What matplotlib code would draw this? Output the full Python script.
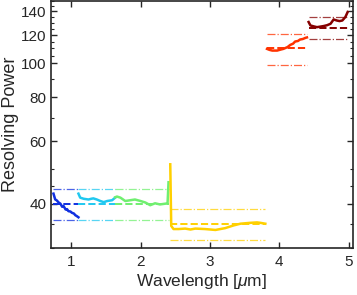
import matplotlib
matplotlib.use('Agg')
import matplotlib.pyplot as plt
from matplotlib.ticker import FixedLocator, NullFormatter, FixedFormatter

plt.rcParams['font.family'] = ['Liberation Sans', 'DejaVu Sans']
plt.rcParams['mathtext.fontset'] = 'custom'
plt.rcParams['mathtext.it'] = 'Liberation Sans:italic'

# wavelength [um] and resolving power for each grating/filter segment
wl_blue = [0.745, 0.77, 0.79, 0.82, 0.845, 0.87, 0.89, 0.92, 0.94, 0.96, 0.99, 1.01, 1.04, 1.06, 1.08, 1.105]
r_blue = [42.7, 41.1, 40.9, 40.3, 40.0, 39.2, 39.4, 38.5, 38.6, 38.1, 38.0, 37.7, 37.5, 37.1, 36.9, 36.6]

wl_cyan = [1.105, 1.13, 1.18, 1.25, 1.29, 1.32, 1.37, 1.42, 1.47, 1.52, 1.59, 1.635]
r_cyan = [42.7, 41.6, 41.3, 41.1, 41.3, 41.4, 41.1, 40.7, 40.4, 40.7, 40.9, 41.6]

wl_green = [1.635, 1.66, 1.71, 1.78, 1.85, 1.92, 2.00, 2.07, 2.14, 2.21, 2.28, 2.36, 2.39, 2.404]
r_green = [41.7, 41.9, 41.6, 40.7, 40.9, 41.1, 40.7, 40.3, 39.6, 40.1, 39.8, 40.0, 40.1, 46.0]

wl_yellow = [2.429, 2.443, 2.476, 2.55, 2.645, 2.72, 2.79, 2.93, 3.08, 3.22, 3.34, 3.44, 3.58, 3.68, 3.73, 3.80]
r_yellow = [51.7, 34.6, 33.9, 33.9, 34.0, 33.8, 34.0, 33.9, 33.7, 34.1, 34.7, 35.1, 35.3, 35.4, 35.3, 35.1]

wl_red = [3.824, 3.86, 3.90, 3.97, 4.02, 4.06, 4.12, 4.16, 4.20, 4.23, 4.27, 4.30, 4.34, 4.38, 4.40]
r_red = [109.7, 109.0, 108.5, 108.5, 109.2, 109.7, 111.0, 112.6, 113.5, 115.1, 115.5, 116.6, 117.0, 117.9, 118.2]

wl_dred = [4.424, 4.45, 4.50, 4.545, 4.60, 4.64, 4.69, 4.74, 4.785, 4.83, 4.87, 4.91, 4.954, 4.987]
r_dred = [130.7, 127.8, 127.0, 126.4, 126.9, 127.3, 128.0, 129.2, 132.9, 132.0, 131.5, 132.0, 135.0, 139.5]

segments = [
    (wl_blue, r_blue, 40.0, 44.0, 36.0, '#1030e0'),
    (wl_cyan, r_cyan, 40.0, 44.0, 36.0, '#20c8f0'),
    (wl_green, r_green, 40.0, 44.0, 36.0, '#70ef70'),
    (wl_yellow, r_yellow, 35.1, 38.6, 31.6, '#ffd000'),
    (wl_red, r_red, 110.0, 121.0, 99.0, '#ff3300'),
    (wl_dred, r_dred, 125.7, 135.0, 117.2, '#850000'),
]

fig = plt.figure(figsize=(3.57, 2.95), dpi=100)
ax = fig.add_axes([0.143, 0.160, 0.845, 0.837])

for wl, r, mid, hi, lo, col in segments:
    x0, x1 = wl[0], wl[-1]
    ax.plot([x0, x1], [hi, hi], '-.', color=col, lw=0.9, alpha=0.75)
    ax.plot([x0, x1], [lo, lo], '-.', color=col, lw=0.9, alpha=0.75)
    ax.plot([x0, x1], [mid, mid], '--', color=col, lw=1.4)
    ax.plot(wl, r, '-', color=col, lw=1.8)

ax.set_yscale('log')
ax.set_xlim(0.71, 5.06)
ax.set_ylim(30, 150)
ax.set_xticks([1, 2, 3, 4, 5])
ax.yaxis.set_major_locator(FixedLocator([40, 60, 80, 100, 120, 140]))
ax.yaxis.set_major_formatter(FixedFormatter(['40', '60', '80', '100', '120', '140']))
ax.yaxis.set_minor_locator(FixedLocator([30, 35, 45, 50, 70, 90, 105, 110, 115, 125, 130, 135, 145, 150]))
ax.yaxis.set_minor_formatter(NullFormatter())

ax.tick_params(which='both', direction='in', top=True, right=True, labelsize=11, colors='#262626')
ax.tick_params(which='major', length=4, width=1)
ax.tick_params(which='minor', length=2, width=0.8)
ax.tick_params(axis='x', pad=5)
for s in ax.spines.values():
    s.set_linewidth(1.2)
    s.set_color('#262626')

ax.set_xlabel(r'Wavelength [$\mu$m]', fontsize=12.5, color='#262626', labelpad=2)
ax.set_ylabel('Resolving Power', fontsize=13, color='#262626', labelpad=1)

fig.savefig('out.png', dpi=100)
